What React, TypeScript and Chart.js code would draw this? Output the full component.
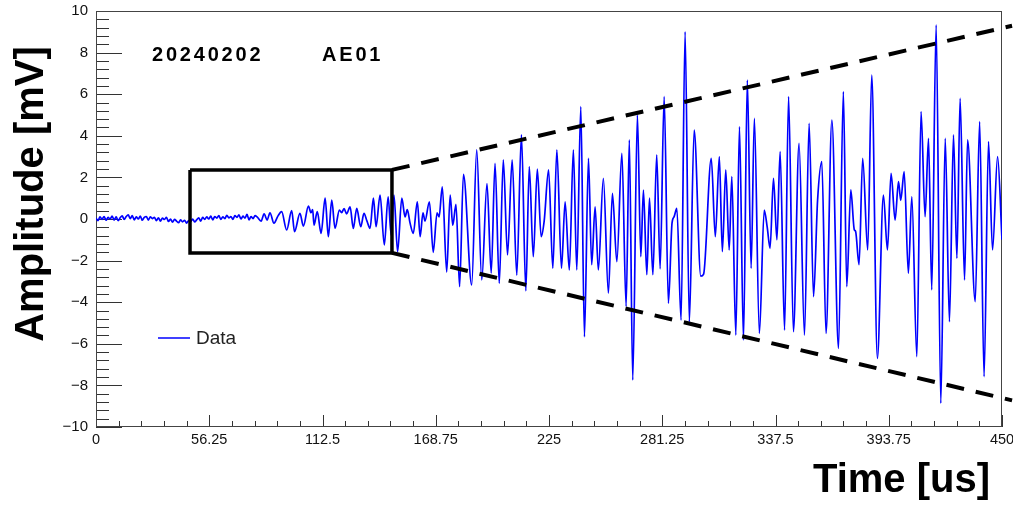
import React, { useEffect, useRef } from "react";
import { Chart, registerables } from "chart.js";

Chart.register(...registerables);

// ---- data ----
const NOISE_T: number[] = [
  0, 1, 2, 3, 4, 5, 6, 7, 8, 9, 10, 11, 12, 13, 14, 15, 16, 17, 18, 19,
  20, 21, 22, 23, 24, 25, 26, 27, 28, 29, 30, 31, 32, 33, 34, 35, 36, 37, 38, 39,
  40, 41, 42, 43, 44, 45, 46, 47, 48, 49, 50, 51, 52, 53, 54, 55, 56, 57, 58, 59,
  60, 61, 62, 63, 64, 65, 66, 67, 68, 69, 70, 71, 72, 73, 74, 75, 76, 77, 78, 79,
];
const NOISE_V: number[] = [
  0.05, -0.08, 0.1, -0.02, 0.12, -0.06, 0.08, 0.0, 0.14, -0.05, 0.1, -0.08, 0.06, 0.15, -0.02, 0.12, 0.2, 0.02, 0.16, -0.04,
  0.1, 0.0, 0.14, -0.06, 0.08, 0.12, -0.05, 0.1, 0.02, 0.08, -0.08, 0.06, -0.1, 0.04, -0.02, 0.08, -0.12, 0.0, -0.15, -0.02,
  -0.1, -0.18, -0.04, -0.14, -0.06, -0.2, -0.08, -0.12, 0.0, -0.14, -0.04, 0.06, -0.1, 0.08, -0.02, 0.1, 0.0, 0.14, -0.04, 0.12,
  0.04, 0.16, -0.02, 0.1, 0.02, 0.18, 0.05, 0.12, -0.02, 0.16, 0.08, 0.2, 0.0, 0.14, 0.04, 0.22, -0.04, 0.12, 0.02, 0.16,
];

const SIGNAL_T: number[] = [
  80, 82, 83.5, 85, 86.4, 88.4, 90.4, 92.2, 94.7, 97.2, 98.6, 101.3, 103.0, 105.5, 106.8, 107.6,
  108.3, 109.9, 111.8, 113.8, 115.4, 117.1, 118.7, 120.9, 122.0, 123.2, 124.5, 126.2, 127.8, 129.5,
  131.5, 133.1, 134.6, 136.1, 137.8, 139.1, 141.1, 143.2, 145.1, 146.6, 148.0, 149.8, 151.9, 153.5,
  154.6, 156.0, 157.6, 159.6, 161.0, 162.4, 163.4, 165.6, 167.5, 169.4, 170.4, 172.0, 174.2, 175.9,
  177.2, 178.8, 180.6, 182.5, 186.6, 189.1, 191.6, 194.2, 196.3, 198.2, 200.3, 202.3, 204.4, 206.7,
  209.0, 211.3, 213.5, 215.2, 217.2, 219.2, 221.1, 222.6, 224.8, 226.9, 228.9, 231.2, 233.0, 235.1,
  237.1, 238.8, 240.8, 242.6, 244.6, 246.2, 247.9, 249.5, 252.0, 254.5, 256.5, 258.7, 261.2, 263.3,
  264.9, 266.6, 268.9, 270.6, 271.9, 273.6, 274.9, 276.6, 278.5, 280.2, 282.2, 284.3, 286.1, 287.1,
  288.5, 290.6, 292.6, 294.7, 297.1, 300.4, 301.8, 305.6, 307.6, 309.6, 311.1, 312.8, 314.5, 315.8,
  317.8, 319.6, 321.6, 323.5, 325.4, 327.0, 329.5, 331.9, 333.4, 334.8, 336.5, 338.2, 339.8, 342.0,
  344.0, 346.4, 349.2, 351.9, 354.2, 356.4, 358.4, 360.5, 362.6, 365.5, 368.8, 371.2, 372.9, 374.9,
  376.6, 377.3, 379.0, 380.8, 383.3, 385.3, 388.1, 391.1, 393.1, 394.9, 396.9, 398.6, 399.7, 401.4,
  403.5, 405.2, 407.7, 409.8, 411.8, 413.5, 415.1, 417.3, 419.6, 421.8, 423.9, 425.9, 427.6, 429.2,
  431.4, 432.9, 436.7, 438.9, 441.1, 443.3, 445.3, 447.8, 450,
];

const SIGNAL_V: number[] = [
  0.1, -0.1, 0.25, -0.05, 0.3, -0.2, 0.15, 0.35, -0.53, 0.4, -0.61, 0.27, -0.34, 0.62, 0.3, 0.45,
  -0.29, 0.35, -0.69, 1.0, -0.85, 0.91, -0.45, 0.43, 0.3, 0.5, 0.25, 0.59, -0.45, 0.51,
  -0.37, 0.27, -0.1, -0.45, 1.0, -0.37, 1.15, -1.25, 1.07, -0.77, 1.15, -1.57, 1.0, 0.1,
  0.45, -0.2, -0.69, 0.83, -0.85, 0.3, -0.1, 0.83, -1.6, 0.3, 0.1, 1.55, -2.55, 1.15,
  -0.3, 0.7, -3.25, 2.15, -3.17, 3.32, -2.93, 1.7, -2.6, 2.68, -3.1, 2.84, -1.73, 2.84,
  -2.7, 4.04, -3.45, 2.52, -1.81, 2.4, -0.85, -0.1, 2.36, -2.37, 3.32, -2.37, 0.83, -2.45,
  3.32, -2.45, 5.4, -5.66, 2.92, -2.2, 0.59, -2.45, 1.96, -3.57, 1.23, -2.05, 3.16, -4.2,
  3.8, -7.74, 5.0, -1.81, 1.39, -2.68, 1.0, -2.68, 3.08, -2.4, 5.88, -4.05, -0.2, 0.1,
  0.51, -4.86, 9.0, -4.94, 4.28, -2.75, -2.65, 2.92, -0.85, 3.0, -1.57, 2.36, -1.49, 2.04,
  -5.58, 4.44, -5.82, 6.68, -2.37, 4.84, -5.5, 0.43, -0.4, -1.41, 1.96, -1.0, 3.24, -5.34,
  5.88, -5.42, 3.64, -5.58, 4.6, -3.73, 0.9, 2.76, -5.5, 4.76, -6.22, 6.12, -3.25, 1.4,
  -0.5, -0.6, -2.2, 2.92, -1.49, 6.92, -6.7, 1.15, -1.49, 2.2, -0.05, 1.8, 0.9, 2.28,
  -2.61, 1.07, -6.62, 5.16, 0.11, 3.88, -3.41, 9.33, -8.86, 3.88, -4.94, 4.04, -1.89, 5.8,
  -2.93, 3.8, -3.97, 4.68, -7.58, 3.72, -1.49, 3.0, -1.0,
];

const X_TICKS: number[] = [0, 56.25, 112.5, 168.75, 225, 281.25, 337.5, 393.75, 450];
const Y_TICKS: number[] = [-10, -8, -6, -4, -2, 0, 2, 4, 6, 8, 10];
const X_MINOR_STEP = 11.25;
const Y_MINOR_STEP = 0.4;

// zoom box and the two dashed guide lines
const BOX_T: number[] = [46.7, 147, 147, 46.7, 46.7];
const BOX_V: number[] = [2.36, 2.36, -1.63, -1.63, 2.36];
const UPPER_T: number[] = [147, 455];
const UPPER_V: number[] = [2.36, 9.29];
const LOWER_T: number[] = [147, 455];
const LOWER_V: number[] = [-1.63, -8.72];

const LABEL_DATE = "20240202";
const LABEL_SENSOR = "AE01";
const LEGEND_LABEL = "Data";
const X_TITLE = "Time [us]";
const Y_TITLE = "Amplitude [mV]";

const FONT = "'Liberation Sans', Arial, Helvetica, sans-serif";

const pts = (xs: number[], ys: number[]) => xs.map((x, i) => ({ x, y: ys[i] }));

const decor = {
  id: "decor",
  beforeDatasetsDraw(chart: any) {
    const ctx = chart.ctx;
    const { left, right, top, bottom } = chart.chartArea;
    const xs = chart.scales.x;
    const ys = chart.scales.y;
    ctx.save();
    ctx.strokeStyle = "#333";
    ctx.lineWidth = 1;
    ctx.beginPath();
    const nx = Math.round((xs.max - xs.min) / X_MINOR_STEP);
    for (let i = 0; i <= nx; i++) {
      const px = Math.round(xs.getPixelForValue(xs.min + i * X_MINOR_STEP)) + 0.5;
      const len = i % 5 === 0 ? 12 : 6;
      ctx.moveTo(px, bottom);
      ctx.lineTo(px, bottom - len);
    }
    const ny = Math.round((ys.max - ys.min) / Y_MINOR_STEP);
    for (let i = 0; i <= ny; i++) {
      const py = Math.round(ys.getPixelForValue(ys.min + i * Y_MINOR_STEP)) + 0.5;
      const len = i % 5 === 0 ? 26 : 13;
      ctx.moveTo(left, py);
      ctx.lineTo(left + len, py);
    }
    ctx.stroke();
    ctx.strokeStyle = "#444";
    ctx.strokeRect(Math.round(left) + 0.5, Math.round(top) + 0.5, Math.round(right - left) - 1, Math.round(bottom - top) - 1);
    ctx.restore();
  },
  afterDraw(chart: any) {
    const ctx = chart.ctx;
    ctx.save();
    ctx.fillStyle = "#000";
    ctx.font = `bold 40px ${FONT}`;
    ctx.textAlign = "center";
    ctx.textBaseline = "alphabetic";
    ctx.translate(43, 194);
    ctx.rotate(-Math.PI / 2);
    ctx.fillText(Y_TITLE, 0, 0);
    ctx.restore();

    ctx.save();
    ctx.fillStyle = "#000";
    ctx.font = `bold 40px ${FONT}`;
    ctx.textAlign = "right";
    ctx.textBaseline = "alphabetic";
    ctx.fillText(X_TITLE, 990, 492);

    ctx.font = `bold 20px ${FONT}`;
    ctx.textAlign = "left";
    (ctx as any).letterSpacing = "2.8px";
    ctx.fillText(LABEL_DATE, 152, 61);
    ctx.fillText(LABEL_SENSOR, 322, 61);
    (ctx as any).letterSpacing = "0px";

    // legend
    ctx.strokeStyle = "#0000ff";
    ctx.lineWidth = 1.5;
    ctx.beginPath();
    ctx.moveTo(158, 338);
    ctx.lineTo(190, 338);
    ctx.stroke();
    ctx.fillStyle = "#222";
    ctx.font = `19px ${FONT}`;
    ctx.textBaseline = "middle";
    ctx.fillText(LEGEND_LABEL, 196, 339);
    ctx.restore();
  },
};

export default function App() {
  const ref = useRef<HTMLCanvasElement>(null);
  useEffect(() => {
    const canvas = ref.current;
    if (!canvas) return;
    const chart = new Chart(canvas, {
      type: "line",
      data: {
        datasets: [
          {
            label: "box",
            data: pts(BOX_T, BOX_V),
            borderColor: "#000",
            borderWidth: 3.5,
            pointRadius: 0,
            tension: 0,
            order: 1,
          } as any,
          {
            label: "upper",
            data: pts(UPPER_T, UPPER_V),
            borderColor: "#000",
            borderWidth: 4,
            borderDash: [18, 12],
            pointRadius: 0,
            clip: false,
            order: 1,
          } as any,
          {
            label: "lower",
            data: pts(LOWER_T, LOWER_V),
            borderColor: "#000",
            borderWidth: 4,
            borderDash: [18, 12],
            pointRadius: 0,
            clip: false,
            order: 1,
          } as any,
          {
            label: LEGEND_LABEL,
            data: pts(NOISE_T.concat(SIGNAL_T), NOISE_V.concat(SIGNAL_V)),
            borderColor: "#0000ff",
            borderWidth: 1.7,
            pointRadius: 0,
            cubicInterpolationMode: "monotone",
            order: 2,
          } as any,
        ],
      },
      options: {
        responsive: false,
        animation: false,
        devicePixelRatio: 1,
        layout: { padding: { left: 0, top: 11, right: 11, bottom: 0 } },
        plugins: { legend: { display: false }, tooltip: { enabled: false } },
        scales: {
          x: {
            type: "linear",
            min: 0,
            max: 450,
            grid: { display: false, drawTicks: false },
            border: { display: false },
            afterBuildTicks: (s: any) => {
              s.ticks = X_TICKS.map((v) => ({ value: v }));
            },
            afterFit: (s: any) => {
              s.height = 78;
              s.paddingLeft = 0;
              s.paddingRight = 0;
            },
            ticks: {
              autoSkip: false,
              maxRotation: 0,
              padding: 4,
              color: "#111",
              font: { family: FONT, size: 14.5 },
              callback: (v: any) => String(v),
            },
          },
          y: {
            type: "linear",
            min: -10,
            max: 10,
            grid: { display: false, drawTicks: false },
            border: { display: false },
            afterBuildTicks: (s: any) => {
              s.ticks = Y_TICKS.map((v) => ({ value: v }));
            },
            afterFit: (s: any) => {
              s.width = 96;
              s.paddingTop = 0;
              s.paddingBottom = 0;
            },
            ticks: {
              autoSkip: false,
              padding: 8,
              color: "#111",
              font: { family: FONT, size: 15 },
              callback: (v: any) => (v < 0 ? "\u2212" + Math.abs(v) : String(v)),
            },
          },
        },
      } as any,
      plugins: [decor],
    });
    return () => chart.destroy();
  }, []);
  return (
    <div style={{ position: "fixed", left: 0, top: 0, width: 1013, height: 505, background: "#fff" }}>
      <canvas ref={ref} width={1013} height={505} style={{ display: "block" }} />
    </div>
  );
}
